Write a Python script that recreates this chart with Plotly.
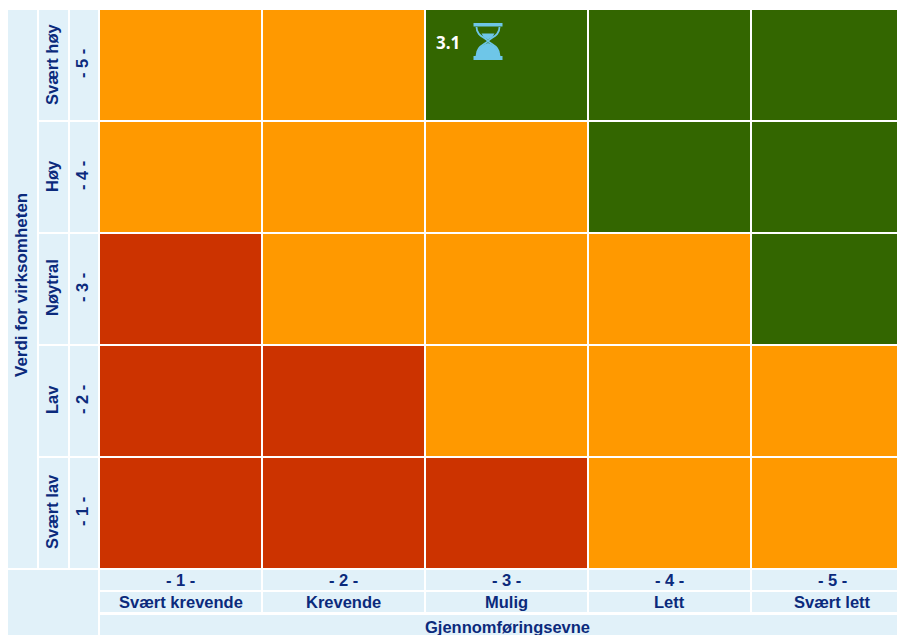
import plotly.graph_objects as go

# Scores along each axis
x_scores = [1, 2, 3, 4, 5]
y_scores = [1, 2, 3, 4, 5]
x_labels = ["Svært krevende", "Krevende", "Mulig", "Lett", "Svært lett"]
y_labels = ["Svært lav", "Lav", "Nøytral", "Høy", "Svært høy"]
x_title = "Gjennomføringsevne"
y_title = "Verdi for virksomheten"

# Priority class of each cell, lowest row first: 0 red, 1 orange, 2 green
row_1 = [0, 0, 0, 1, 1]
row_2 = [0, 0, 1, 1, 1]
row_3 = [0, 1, 1, 1, 2]
row_4 = [1, 1, 1, 2, 2]
row_5 = [1, 1, 2, 2, 2]

# The one plotted item
item_label = "3.1"
item_x = 3
item_y = 5

RED, ORANGE, GREEN = "#CC3300", "#FF9900", "#336600"
BAND = "#E1F1F9"
INK = "#0B2A7C"
ICON = "#6EC6E8"
W, H = 897, 635
CELL_W, CELL_H = 163, 112
LEFT, BOTTOM = 99, 569


def dx(px):
    return 0.5 + (px - LEFT) / CELL_W


def dy(py):
    return 0.5 + (BOTTOM - py) / CELL_H


def band(x0, x1, y0, y1):
    return dict(type="rect", layer="below", line_width=0, fillcolor=BAND,
                x0=dx(x0), x1=dx(x1), y0=dy(y0), y1=dy(y1))


def label(x, y, text, size=16.5, angle=0, color=INK, family="Liberation Sans", yshift=0):
    return dict(x=x, y=y, text=f"<b>{text}</b>", showarrow=False, textangle=angle,
                xanchor="center", yanchor="middle", yshift=yshift,
                font=dict(family=family, size=size, color=color))


fig = go.Figure(go.Heatmap(
    x=x_scores, y=y_scores, z=[row_1, row_2, row_3, row_4, row_5],
    zmin=0, zmax=2, xgap=2, ygap=2, showscale=False, hoverinfo="skip",
    colorscale=[[0, RED], [0.33, RED], [0.33, ORANGE], [0.66, ORANGE], [0.66, GREEN], [1, GREEN]],
))

shapes = [
    band(8, 37, 10, 568),
    band(8, 98, 570, 635),
    band(100, 915, 615, 635),
]
annotations = [
    label(dx(21), dy(285), y_title, size=17, angle=-90),
    label(dx(507), dy(627), x_title),
]

for i, score in enumerate(x_scores):
    x0 = LEFT + 1 + i * CELL_W
    shapes.append(band(x0, x0 + CELL_W - 2, 570, 590))
    shapes.append(band(x0, x0 + CELL_W - 2, 592, 612))
    annotations.append(label(score, dy(580), f"- {score} -"))
    annotations.append(label(score, dy(602), x_labels[i]))

for i, score in enumerate(y_scores):
    y0 = 10 + (4 - i) * CELL_H
    shapes.append(band(39, 68, y0, y0 + CELL_H - 2))
    shapes.append(band(70, 98, y0, y0 + CELL_H - 2))
    annotations.append(label(dx(52), score, y_labels[i], angle=-90, yshift=1))
    annotations.append(label(dx(82), score, f"- {score} -", angle=-90, yshift=1))

# Item marker: value text plus an hourglass positioned relative to its cell
annotations.append(dict(
    x=item_x, y=item_y, xshift=-59, yshift=23, text=f"<b>{item_label}</b>", showarrow=False,
    font=dict(family="Open Sans", size=17, color="white"),
))


def glass(path, **style):
    return dict(type="path", path=path, xref="x", yref="y", xsizemode="pixel", ysizemode="pixel",
                xanchor=item_x, yanchor=item_y, **style)


# Pixel offsets from the centre of the cell; positive y points up
shapes += [
    glass("M -33 42 L -4 42 L -4 38.5 L -33 38.5 Z", fillcolor=ICON, line_width=0),
    glass("M -33 9 L -4 9 L -4 5 L -33 5 Z", fillcolor=ICON, line_width=0),
    glass("M -30 38 C -30 29 -22 28 -18.5 24 C -22 20 -30 19 -30 9",
          line=dict(color=ICON, width=1.8)),
    glass("M -7 38 C -7 29 -15 28 -18.5 24 C -15 20 -7 19 -7 9",
          line=dict(color=ICON, width=1.8)),
    glass("M -25 31.5 L -12 31.5 L -14 28 L -18.5 25.5 L -23 28 Z", fillcolor=ICON, line_width=0),
    glass("M -30 9 C -30 17 -24 20 -18.5 22 C -13 20 -7 17 -7 9 Z", fillcolor=ICON, line_width=0),
]

fig.update_layout(
    width=W, height=H, margin=dict(l=0, r=0, t=0, b=0),
    paper_bgcolor="white", plot_bgcolor="white",
    xaxis=dict(range=[dx(0), dx(W)], visible=False, fixedrange=True),
    yaxis=dict(range=[dy(H), dy(0)], visible=False, fixedrange=True),
    shapes=shapes, annotations=annotations,
)

fig.write_html("out.html", config=dict(displayModeBar=False))
